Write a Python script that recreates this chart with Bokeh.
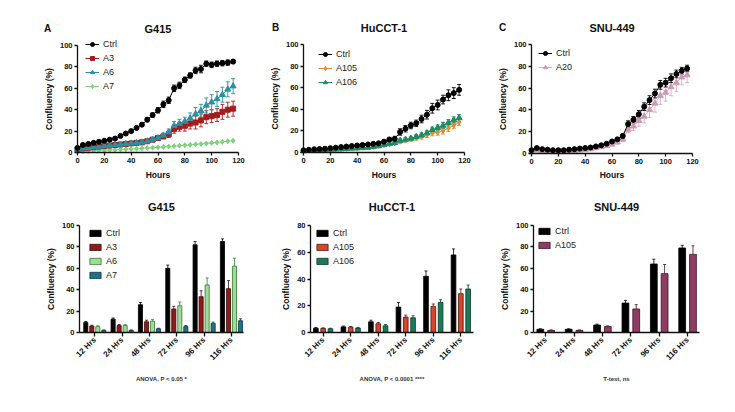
import math
from bokeh.plotting import figure
from bokeh.layouts import row, column
from bokeh.models import (ColumnDataSource, Range1d, FixedTicker, Whisker, TeeHead,
                          Legend, LegendItem, Label)
from bokeh.embed import file_html
from bokeh.resources import INLINE

FONT = "Liberation Sans"

# ---------------- time-course data (every 4 h) ----------------
hours = list(range(0, 120, 4))

g415_ctrl = [4.3, 7, 8, 9, 10, 11, 12, 13, 15.5, 17.7, 20, 23, 26, 30.7, 35, 39.4, 45, 48.8,
             60, 62.7, 68, 72, 76.7, 78, 83, 82, 83, 83.5, 84, 85]
g415_ctrl_err = [1, 1, 1, 1, 1, 1, 1, 1, 1, 1, 1, 1.5, 1.5, 2, 2, 2.5, 3, 3,
                 3, 3, 2.5, 2.5, 3, 3.5, 2.5, 2.5, 2.5, 2.5, 2.5, 2]
g415_a3 = [3, 4, 4.5, 5, 5.5, 6, 6.5, 7, 7.5, 8, 8.5, 9, 9.5, 10.5, 12, 13.5, 15, 17,
           22, 24, 25, 27, 28, 30, 33, 34, 35, 38, 40, 41]
g415_a3_err = [0.5, 0.5, 0.5, 0.5, 0.5, 0.5, 0.8, 0.8, 0.8, 0.8, 1, 1, 1, 1, 1.5, 1.5, 2, 3,
               4, 4, 5, 5, 6, 6, 6, 6, 6, 7, 7, 7]
g415_a6 = [3, 4, 4.5, 5, 5.5, 6, 6.5, 7, 7.5, 8, 8.5, 9, 9.5, 10.5, 12, 13.5, 16, 19,
           25, 27, 29, 32, 36, 39, 44, 47, 50, 54, 59, 62]
g415_a6_err = [0.5, 0.5, 0.5, 0.5, 0.5, 0.5, 0.8, 0.8, 0.8, 0.8, 1, 1, 1, 1, 1.5, 1.5, 2, 3,
               4, 4, 4, 5, 6, 6, 7, 7, 7, 7, 7, 7]
g415_a7 = [1, 1.2, 1.5, 1.8, 2, 2.2, 2.4, 2.6, 2.9, 3.1, 3.3, 3.6, 3.9, 4.2, 4.5, 4.8, 5.2, 5.6,
           6, 6.4, 6.8, 7.2, 7.6, 8, 8.5, 9, 9.4, 10, 10.5, 11]
g415_a7_err = [0.5] * 30

hucct_ctrl = [2, 2.5, 3, 3.2, 3.5, 4, 4.5, 5, 5.5, 6, 6.5, 7, 7.5, 8, 8.5, 10, 12, 12.5,
              19, 22, 25, 27, 31, 35, 41, 44, 49, 53, 55, 58]
hucct_ctrl_err = [0.5] * 14 + [1, 1.5, 2, 2.5, 3, 3, 3, 3, 3.5, 4, 4.5, 4.5, 4, 5, 5, 5]
hucct_a105 = [1.5, 1.8, 2, 2.2, 2.5, 2.8, 3, 3.2, 3.5, 3.8, 4, 4.3, 4.6, 5.2, 6,
              7, 7.5, 8.5, 10, 11, 12, 13.5, 14.5, 16, 18, 18.5, 20, 22.5, 25, 28]
hucct_a105_err = [0.4] * 15 + [1, 1, 1, 1.5, 1.5, 1.5, 2, 2, 2, 2.5, 2.5, 3, 3, 3, 3]
hucct_a106 = [1.5, 1.8, 2, 2.2, 2.5, 2.8, 3, 3.2, 3.5, 3.8, 4, 4.3, 4.6, 5.2, 6,
              7, 8, 9, 11, 12, 13, 14.5, 16, 18, 21, 23, 25, 27.5, 30, 32]
hucct_a106_err = [0.4] * 15 + [1, 1, 1, 1.5, 1.5, 1.5, 2, 2, 2, 2.5, 2.5, 3, 3, 3, 3]

snu_ctrl = [3, 5, 4, 3.5, 3, 3, 3, 3.5, 4, 4.5, 5, 5.5, 6.5, 7.5, 9, 11, 13, 16,
            27, 31, 36, 43, 49, 55, 63, 65, 69, 73, 76, 78]
snu_ctrl_err = [0.6] * 15 + [1, 1.5, 2, 3, 3, 3.5, 3.5, 4, 4, 4, 4, 4, 3.5, 3, 3]
snu_a20 = [1.5, 3, 2.5, 2, 1.5, 1.5, 2, 2, 2.5, 3, 3.5, 4, 5, 6, 7, 8.5, 10.5, 13,
           22, 25, 30, 34, 40, 46, 53, 56, 61, 65, 70, 72]
snu_a20_err = [0.8] * 15 + [1.5, 2, 2, 3, 4, 5, 6, 7, 8, 8, 8, 8, 8, 7, 7]

# ---------------- end-point bar data ----------------
times = ["12 Hrs", "24 Hrs", "48 Hrs", "72 Hrs", "96 Hrs", "116 Hrs"]

g415_bar_ctrl = [9.3, 12.5, 26, 60, 82, 85]
g415_bar_ctrl_err = [1, 1, 2, 3, 3, 2.5]
g415_bar_a3 = [6, 6.5, 10, 22, 33.5, 41]
g415_bar_a3_err = [0.8, 1, 1.5, 2.5, 5.5, 7.5]
g415_bar_a6 = [5.5, 6.5, 10.5, 25, 44.5, 62]
g415_bar_a6_err = [0.8, 0.8, 1.5, 3.5, 6.5, 7.5]
g415_bar_a7 = [2, 2, 3.5, 5.5, 8.5, 11]
g415_bar_a7_err = [0.4, 0.4, 0.5, 1, 1.2, 1.8]

hucct_bar_ctrl = [3.2, 4.2, 8, 19, 42, 58]
hucct_bar_ctrl_err = [0.6, 0.6, 1.2, 3.5, 4, 4.5]
hucct_bar_a105 = [3, 4, 6.5, 11.5, 19.5, 29]
hucct_bar_a105_err = [0.5, 0.5, 1, 1.5, 1.8, 3.5]
hucct_bar_a106 = [2.8, 3.3, 5, 11, 22.5, 32.5]
hucct_bar_a106_err = [0.4, 0.5, 1, 1.5, 2, 3]

snu_bar_ctrl = [3, 3, 7, 27.5, 64, 79]
snu_bar_ctrl_err = [0.5, 0.5, 0.8, 2.5, 4.5, 2.5]
snu_bar_a105 = [2, 2, 5.5, 22, 55, 73]
snu_bar_a105_err = [0.4, 0.4, 0.7, 4, 8.5, 8]


def style(p):
    p.grid.visible = False
    p.outline_line_color = None
    p.background_fill_color = "white"
    for ax in p.axis:
        ax.axis_line_width = 1.3
        ax.axis_line_color = "#111111"
        ax.major_tick_line_width = 1.3
        ax.major_tick_line_color = "#111111"
        ax.major_tick_out = 3
        ax.major_tick_in = 0
        ax.minor_tick_out = 0
        ax.minor_tick_in = 0
        ax.major_label_text_font = FONT
        ax.major_label_text_font_style = "bold"
        ax.major_label_text_font_size = "7.5px"
        ax.major_label_text_color = "#111111"
        ax.major_label_standoff = 2
        ax.axis_label_text_font = FONT
        ax.axis_label_text_font_style = "bold"
        ax.axis_label_text_font_size = "8.5px"
        ax.axis_label_text_color = "#111111"
        ax.axis_label_standoff = 3
    p.yaxis.axis_label = "Confluency (%)"


def text_label(p, x, y, text, size):
    p.add_layout(Label(x=x, y=y, text=text, text_font=FONT, text_font_size=size,
                       text_font_style="bold", text_align="center",
                       text_baseline="middle", text_color="#111111"))


def add_legend(p, items, loc, glyph_h=10):
    lg = Legend(items=[LegendItem(label=lab, renderers=rs) for lab, rs in items],
                location=loc, border_line_color=None, background_fill_alpha=0,
                label_text_font=FONT, label_text_font_size="9px",
                label_text_color="#222222", glyph_width=14, glyph_height=glyph_h,
                label_height=10, label_standoff=4, spacing=4, padding=0, margin=0)
    p.add_layout(lg)


def growth(p, y, err, color, marker, size, line_alpha=1.0):
    src = ColumnDataSource(dict(x=hours, y=y,
                                lo=[a - b for a, b in zip(y, err)],
                                hi=[a + b for a, b in zip(y, err)]))
    p.add_layout(Whisker(source=src, base="x", lower="lo", upper="hi",
                         line_color=color, line_width=0.9, line_alpha=line_alpha,
                         upper_head=TeeHead(size=4, line_color=color, line_width=0.9,
                                            line_alpha=line_alpha),
                         lower_head=TeeHead(size=4, line_color=color, line_width=0.9,
                                            line_alpha=line_alpha)))
    ln = p.line("x", "y", source=src, line_color=color, line_width=1, line_alpha=line_alpha)
    sc = p.scatter("x", "y", source=src, marker=marker, size=size,
                   fill_color=color, line_color=color)
    return [ln, sc]


def bars(p, vals, err, offset, width, color, edge):
    xs = [i + offset for i in range(len(vals))]
    src = ColumnDataSource(dict(x=xs, top=vals, hi=[v + e for v, e in zip(vals, err)]))
    p.add_layout(Whisker(source=src, base="x", lower="top", upper="hi",
                         line_color=edge, line_width=0.8,
                         upper_head=TeeHead(size=3, line_color=edge, line_width=0.8),
                         lower_head=None))
    r = p.vbar(x="x", top="top", width=width, bottom=0, source=src,
               fill_color=color, line_color=edge, line_width=0.8)
    return [r]


# ---------------- top row: growth curves ----------------
# Each plotting frame fills its whole figure so that the panel letter, the
# heading and the "Hours" caption can sit inside it; both axes are pinned at
# zero and bounded to the data extent.
H1 = 185
W1, W2, W3 = 245, 236, 254


def curve_fig(width, ax_left, ax_right, ax_top, ax_bottom, title, letter, letter_x, head_y):
    sx = (ax_right - ax_left) / 120.0
    sy = (ax_bottom - ax_top) / 100.0
    p = figure(width=width, height=H1,
               x_range=Range1d(-ax_left / sx, (width - ax_left) / sx),
               y_range=Range1d(-(H1 - ax_bottom) / sy, ax_bottom / sy),
               output_backend="svg", toolbar_location=None, tools="",
               min_border_left=0, min_border_right=0,
               min_border_top=0, min_border_bottom=0)
    p.title.visible = False
    style(p)
    p.xaxis.ticker = FixedTicker(ticks=[0, 20, 40, 60, 80, 100, 120])
    p.yaxis.ticker = FixedTicker(ticks=[0, 20, 40, 60, 80, 100])
    p.xaxis.bounds = (0, 120)
    p.yaxis.bounds = (0, 100)
    p.xaxis.fixed_location = 0
    p.yaxis.fixed_location = 0
    y_head = (ax_bottom - head_y) / sy
    text_label(p, 60, y_head, title, "11px")
    text_label(p, (letter_x - ax_left) / sx, y_head, letter, "10px")
    text_label(p, 60, (ax_bottom - 174) / sy, "Hours", "8.5px")
    return p


pa = curve_fig(W1, 77, 238, 45, 152, "G415", "A", 47, 28)
ra7 = growth(pa, g415_a7, g415_a7_err, "#7fd27f", "diamond", 5)
ra3 = growth(pa, g415_a3, g415_a3_err, "#a51c1c", "square", 5)
ra6 = growth(pa, g415_a6, g415_a6_err, "#2b90a2", "triangle", 6)
rac = growth(pa, g415_ctrl, g415_ctrl_err, "#000000", "circle", 5)
add_legend(pa, [("Ctrl", rac), ("A3", ra3), ("A6", ra6), ("A7", ra7)], (85, 94))

pb = curve_fig(W2, 58, 219, 44, 152, "HuCCT-1", "B", 30, 27)
rb105 = growth(pb, hucct_a105, hucct_a105_err, "#e38b2b", "diamond", 5)
rb106 = growth(pb, hucct_a106, hucct_a106_err, "#1e8a66", "triangle", 6)
rbc = growth(pb, hucct_ctrl, hucct_ctrl_err, "#000000", "circle", 5)
add_legend(pb, [("Ctrl", rbc), ("A105", rb105), ("A106", rb106)], (73, 98))

pc = curve_fig(W3, 50, 211, 44, 153, "SNU-449", "C", 21, 27)
rc20 = growth(pc, snu_a20, snu_a20_err, "#cf98b2", "triangle", 6, line_alpha=0.8)
rcc = growth(pc, snu_ctrl, snu_ctrl_err, "#000000", "circle", 5)
add_legend(pc, [("Ctrl", rcc), ("A20", rc20)], (57, 113))

# ---------------- bottom row: end-point bars ----------------
H2 = 227


def bar_fig(width, borders, title, xr, ymax, yticks, stat):
    left, right, top, bottom = borders
    p = figure(width=width, height=H2, x_range=Range1d(*xr), y_range=Range1d(0, ymax),
               output_backend="svg", toolbar_location=None, tools="",
               min_border_left=left, min_border_right=right,
               min_border_top=top, min_border_bottom=bottom, title=title)
    p.title.align = "center"
    p.title.text_font = FONT
    p.title.text_font_size = "11px"
    p.title.text_font_style = "bold"
    p.title.text_color = "#111111"
    p.title.standoff = 25
    style(p)
    p.xaxis.ticker = FixedTicker(ticks=list(range(len(times))))
    p.xaxis.major_label_overrides = {i: t for i, t in enumerate(times)}
    p.xaxis.major_label_orientation = math.pi / 4
    p.xaxis.major_label_text_font_size = "8px"
    p.xaxis.major_tick_out = 4
    p.yaxis.ticker = FixedTicker(ticks=yticks)
    p.xaxis.axis_label = stat
    p.xaxis.axis_label_text_font_size = "6px"
    p.xaxis.axis_label_text_color = "#333333"
    p.xaxis.axis_label_standoff = 8
    return p


pd_ = bar_fig(W1, (79, 2, 39, 80), "G415", (-0.56, 5.44), 100,
              [0, 20, 40, 60, 80, 100], "ANOVA, P < 0.05 *")
s4, w4 = 0.22, 0.15
bd_c = bars(pd_, g415_bar_ctrl, g415_bar_ctrl_err, -1.5 * s4, w4, "#000000", "#000000")
bd_3 = bars(pd_, g415_bar_a3, g415_bar_a3_err, -0.5 * s4, w4, "#8e1a1a", "#3a0a0a")
bd_6 = bars(pd_, g415_bar_a6, g415_bar_a6_err, 0.5 * s4, w4, "#9fdc9a", "#2f7a2f")
bd_7 = bars(pd_, g415_bar_a7, g415_bar_a7_err, 1.5 * s4, w4, "#1f7288", "#0c3440")
add_legend(pd_, [("Ctrl", bd_c), ("A3", bd_3), ("A6", bd_6), ("A7", bd_7)], (9, 52), glyph_h=8)

pe = bar_fig(W2, (65, 8, 39, 79), "HuCCT-1", (-0.46, 5.46), 80,
             [0, 20, 40, 60, 80], "ANOVA, P < 0.0001 ****")
s3, w3 = 0.265, 0.17
be_c = bars(pe, hucct_bar_ctrl, hucct_bar_ctrl_err, -s3, w3, "#000000", "#000000")
be_5 = bars(pe, hucct_bar_a105, hucct_bar_a105_err, 0, w3, "#d9452b", "#4a1408")
be_6 = bars(pe, hucct_bar_a106, hucct_bar_a106_err, s3, w3, "#1b7a5c", "#0a3526")
add_legend(pe, [("Ctrl", be_c), ("A105", be_5), ("A106", be_6)], (5, 66), glyph_h=8)

pf = bar_fig(W3, (52, 36, 40, 76), "SNU-449", (-0.43, 5.42), 100,
             [0, 20, 40, 60, 80, 100], "T-test, ns")
s2, w2 = 0.38, 0.24
bf_c = bars(pf, snu_bar_ctrl, snu_bar_ctrl_err, -s2 / 2, w2, "#000000", "#000000")
bf_5 = bars(pf, snu_bar_a105, snu_bar_a105_err, s2 / 2, w2, "#8f3c63", "#3a1027")
add_legend(pf, [("Ctrl", bf_c), ("A105", bf_5)], (4, 82), glyph_h=8)

layout = column(row(pa, pb, pc), row(pd_, pe, pf))

with open("out.html", "w") as fh:
    fh.write(file_html(layout, INLINE, title="Confluency"))
